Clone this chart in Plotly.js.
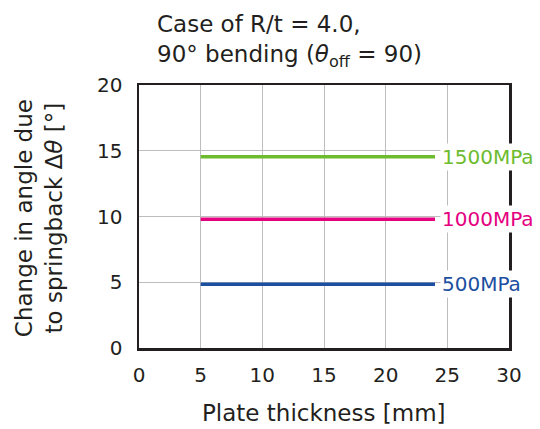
<!DOCTYPE html>
<html>
<head>
<meta charset="utf-8">
<script src="https://cdn.plot.ly/plotly-3.0.1.min.js"></script>
<style>html,body{margin:0;padding:0;background:#fff;}#chart{width:540px;height:429px;}</style>
</head>
<body>
<div id="chart"></div>
<script>
// Data
const seriesNames = ["1500MPa", "1000MPa", "500MPa"];
const seriesColors = ["#6dbb2e", "#e4007f", "#1c4fa0"];
const thickness = [5, 24];
const values1500 = [14.55, 14.55];
const values1000 = [9.8, 9.8];
const values500 = [4.85, 4.85];
const xTicks = [0, 5, 10, 15, 20, 25, 30];
const yTicks = [0, 5, 10, 15, 20];

const allValues = [values1500, values1000, values500];
const txt = "#231f20";
const fontFam = "DejaVu Sans, Liberation Sans, Arial, sans-serif";

const traces = allValues.map((v, i) => ({
  x: thickness, y: v, type: "scatter", mode: "lines",
  line: {color: seriesColors[i], width: 3.5}, name: seriesNames[i], showlegend: false, hoverinfo: "skip"
}));

const annotations = allValues.map((v, i) => ({
  x: thickness[thickness.length - 1], y: v[v.length - 1], xref: "x", yref: "y",
  text: seriesNames[i], showarrow: false, xanchor: "left", yanchor: "middle",
  xshift: 5, font: {family: fontFam, size: 20, color: seriesColors[i]},
  bgcolor: "#ffffff", borderpad: 1
}));

annotations.push({
  xref: "paper", yref: "paper", x: 0.043, y: 1.29, xanchor: "left", yanchor: "top",
  align: "left", showarrow: false,
  text: "Case of R/t = 4.0,<br>90° bending (<i>θ</i><sub>off</sub> = 90)",
  font: {family: fontFam, size: 23, color: txt}
});
annotations.push({
  xref: "paper", yref: "paper", x: -0.27, y: 0.494, xanchor: "center", yanchor: "middle",
  textangle: -90, showarrow: false,
  text: "Change in angle due<br>to springback Δ<i>θ</i> [°]",
  font: {family: fontFam, size: 23, color: txt}
});
annotations.push({
  xref: "paper", yref: "paper", x: 0.5, y: -0.247, xanchor: "center", yanchor: "middle",
  showarrow: false, text: "Plate thickness [mm]",
  font: {family: fontFam, size: 23, color: txt}
});

const layout = {
  width: 540, height: 429,
  margin: {l: 139, r: 31, t: 85, b: 81},
  paper_bgcolor: "#ffffff", plot_bgcolor: "#ffffff",
  xaxis: {
    range: [0, 30], tickvals: xTicks, ticktext: xTicks.map(String),
    showgrid: true, gridcolor: "#bdbdbd", gridwidth: 1, zeroline: false,
    showline: true, mirror: true, linecolor: "#231f20", linewidth: 2.5,
    ticks: "", ticklabelstandoff: 7,
    tickfont: {family: fontFam, size: 20, color: txt}, fixedrange: true
  },
  yaxis: {
    range: [0, 20], tickvals: yTicks, ticktext: yTicks.map(String),
    showgrid: true, gridcolor: "#bdbdbd", gridwidth: 1, zeroline: false,
    showline: true, mirror: true, linecolor: "#231f20", linewidth: 2.5,
    ticks: "", ticklabelstandoff: 10,
    tickfont: {family: fontFam, size: 20, color: txt}, fixedrange: true
  },
  annotations: annotations
};

Plotly.newPlot("chart", traces, layout, {displayModeBar: false, staticPlot: true});
</script>
</body>
</html>
